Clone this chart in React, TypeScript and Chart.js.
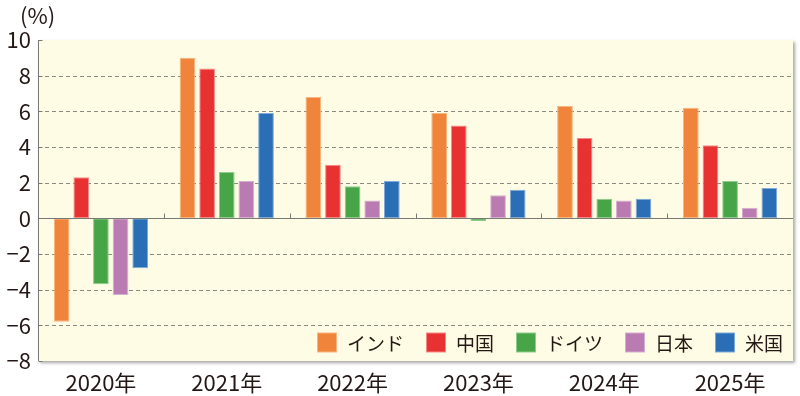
import React, { useEffect, useRef } from "react";
import { Chart, registerables } from "chart.js";
Chart.register(...registerables);

const categories = ["2020年", "2021年", "2022年", "2023年", "2024年", "2025年"];
const seriesNames = ["インド", "中国", "ドイツ", "日本", "米国"];
const india = [-5.8, 9.0, 6.8, 5.9, 6.3, 6.2];
const china = [2.3, 8.4, 3.0, 5.2, 4.5, 4.1];
const germany = [-3.7, 2.6, 1.8, -0.15, 1.1, 2.1];
const japan = [-4.3, 2.1, 1.0, 1.3, 1.0, 0.6];
const usa = [-2.8, 5.9, 2.1, 1.6, 1.1, 1.7];
const yMin = -8;
const yMax = 10;
const yStep = 2;
const unitLabel = "(%)";

const fillColors = ["#F0843A", "#E83232", "#48A547", "#B97BB1", "#2A6FB6"];
const edgeColors = ["#F8B47E", "#F48A88", "#8FCB8C", "#D6AED1", "#7FA9D8"];
const FONT = "'Noto Sans CJK JP', 'Noto Sans', sans-serif";
const TEXT = "#231815";

const framePlugin = {
  id: "frame",
  beforeDraw(chart: any) {
    const { ctx, chartArea: a, scales } = chart;
    const y = scales.y;
    ctx.save();
    ctx.shadowColor = "rgba(0,0,0,0.35)";
    ctx.shadowOffsetX = 2;
    ctx.shadowOffsetY = 2;
    ctx.shadowBlur = 3;
    ctx.fillStyle = "#FEFCE4";
    ctx.fillRect(a.left, a.top, a.right - a.left, a.bottom - a.top);
    ctx.restore();
    ctx.save();
    ctx.strokeStyle = "#8a8a84";
    ctx.lineWidth = 1;
    ctx.setLineDash([4, 3]);
    for (let v = yMin + yStep; v < yMax; v += yStep) {
      if (v === 0) continue;
      const py = Math.round(y.getPixelForValue(v)) + 0.5;
      ctx.beginPath();
      ctx.moveTo(a.left, py);
      ctx.lineTo(a.right, py);
      ctx.stroke();
    }
    ctx.restore();
    ctx.save();
    ctx.fillStyle = TEXT;
    ctx.font = `22px ${FONT}`;
    ctx.textAlign = "left";
    ctx.textBaseline = "middle";
    ctx.fillText(unitLabel, 20, 16);
    ctx.restore();
  },
  afterDatasetsDraw(chart: any) {
    const { ctx, chartArea: a, scales } = chart;
    const y = scales.y;
    const x = scales.x;
    ctx.save();
    ctx.strokeStyle = "#7a7a74";
    ctx.lineWidth = 1;
    const y0 = Math.round(y.getPixelForValue(0)) + 0.5;
    ctx.beginPath();
    ctx.moveTo(a.left, y0);
    ctx.lineTo(a.right, y0);
    ctx.stroke();
    const n = categories.length;
    for (let i = 1; i < n; i++) {
      const px = Math.round((x.getPixelForValue(i - 1) + x.getPixelForValue(i)) / 2) + 0.5;
      ctx.beginPath();
      ctx.moveTo(px, y0);
      ctx.lineTo(px, y0 - 5);
      ctx.stroke();
    }
    const lx = a.left + 0.5;
    ctx.beginPath();
    ctx.moveTo(lx, a.top);
    ctx.lineTo(lx, a.bottom);
    ctx.stroke();
    for (let v = yMin; v <= yMax; v += yStep) {
      const py = Math.round(y.getPixelForValue(v)) + 0.5;
      ctx.beginPath();
      ctx.moveTo(lx, py);
      ctx.lineTo(lx + 4, py);
      ctx.stroke();
    }
    ctx.restore();
  },
  afterDraw(chart: any) {
    const { ctx, chartArea: a } = chart;
    ctx.save();
    ctx.font = `19px ${FONT}`;
    ctx.textBaseline = "middle";
    ctx.textAlign = "left";
    const box = 20;
    const gapText = 10;
    const gapItem = 22;
    const widths = seriesNames.map((s) => box + gapText + ctx.measureText(s).width);
    const total = widths.reduce((p, c) => p + c, 0) + gapItem * (widths.length - 1);
    let px = a.right - 10 - total;
    const cy = a.bottom - 18.5;
    seriesNames.forEach((s, i) => {
      ctx.fillStyle = edgeColors[i];
      ctx.fillRect(px, cy - box / 2, box, box);
      ctx.fillStyle = fillColors[i];
      ctx.fillRect(px + 1, cy - box / 2 + 1, box - 2, box - 2);
      ctx.fillStyle = TEXT;
      ctx.fillText(s, px + box + gapText, cy + 1);
      px += widths[i] + gapItem;
    });
    ctx.restore();
  },
};

export default function App() {
  const ref = useRef<HTMLCanvasElement | null>(null);
  useEffect(() => {
    if (!ref.current) return;
    const values = [india, china, germany, japan, usa];
    const chart = new Chart(ref.current, {
      type: "bar",
      data: {
        labels: categories,
        datasets: seriesNames.map((name, i) => ({
          label: name,
          data: values[i],
          backgroundColor: fillColors[i],
          borderColor: edgeColors[i],
          borderWidth: 1,
          borderSkipped: false,
          categoryPercentage: 0.78,
          barPercentage: 0.8,
        })),
      },
      options: {
        responsive: false,
        animation: false,
        devicePixelRatio: 1,
        layout: { padding: { top: 40, right: 7, left: 0, bottom: 0 } },
        plugins: {
          legend: { display: false },
          tooltip: { enabled: false },
        },
        scales: {
          x: {
            grid: { display: false, drawTicks: false },
            border: { display: false },
            ticks: {
              color: TEXT,
              padding: 8,
              font: { family: FONT, size: 22 },
              maxRotation: 0,
            },
            afterFit: (s: any) => {
              s.height = 35;
            },
          },
          y: {
            min: yMin,
            max: yMax,
            grid: { display: false, drawTicks: false },
            border: { display: false },
            ticks: {
              stepSize: yStep,
              color: TEXT,
              padding: 7,
              font: { family: FONT, size: 22 },
              callback: (v: any) => (Number(v) < 0 ? "−" + Math.abs(Number(v)) : String(v)),
            },
            afterFit: (s: any) => {
              s.width = 38;
            },
          },
        },
      },
      plugins: [framePlugin],
    });
    return () => chart.destroy();
  }, []);
  return (
    <div style={{ position: "absolute", left: 0, top: 0, width: 800, height: 396, background: "#fff" }}>
      <canvas ref={ref} width={800} height={396} />
    </div>
  );
}
